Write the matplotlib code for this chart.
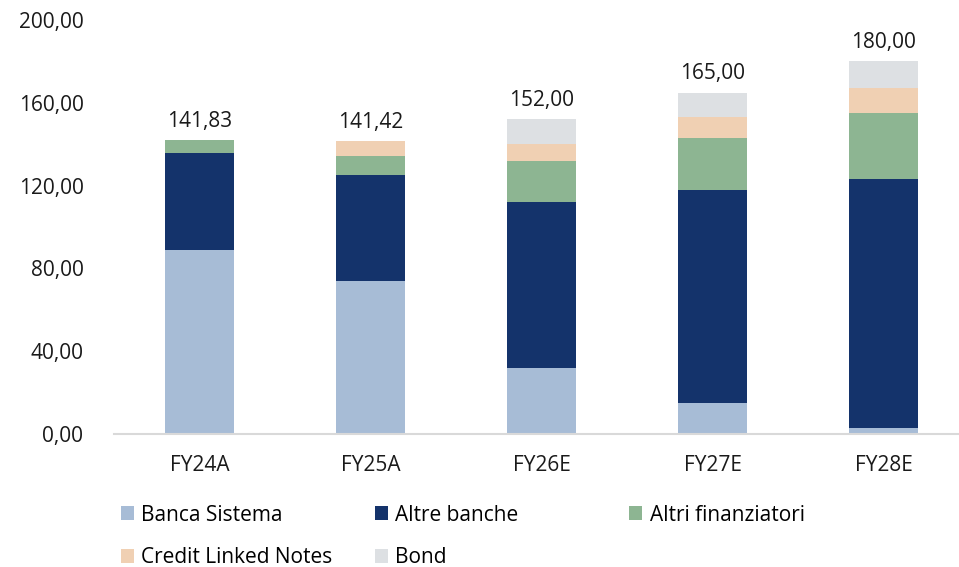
import matplotlib.pyplot as plt
from matplotlib.patches import Patch
from matplotlib.ticker import FuncFormatter
import numpy as np

plt.rcParams['font.family'] = ['Open Sans', 'DejaVu Sans']

# Dati
anni = ['FY24A', 'FY25A', 'FY26E', 'FY27E', 'FY28E']
banca_sistema = [88.7, 73.9, 32.0, 15.0, 3.0]
altre_banche = [47.2, 51.2, 80.0, 103.0, 120.0]
altri_finanziatori = [5.93, 9.2, 20.0, 25.0, 32.0]
credit_linked_notes = [0.0, 7.12, 8.0, 10.0, 12.0]
bond = [0.0, 0.0, 12.0, 12.0, 13.0]
totali = [141.83, 141.42, 152.00, 165.00, 180.00]

serie = [
    ('Banca Sistema', banca_sistema, '#A7BCD6'),
    ('Altre banche', altre_banche, '#14336B'),
    ('Altri finanziatori', altri_finanziatori, '#8DB592'),
    ('Credit Linked Notes', credit_linked_notes, '#F0D0B3'),
    ('Bond', bond, '#DDE0E3'),
]


def virgola(v, pos=None):
    return f'{v:.2f}'.replace('.', ',')


fs = 15
fig = plt.figure(figsize=(9.59, 5.67), dpi=100)
# l'asse va oltre il bordo destro come nell'originale
ax = fig.add_axes([0.1189, 0.2346, 0.8916, 0.73])

x = np.arange(len(anni))
base = np.zeros(len(anni))
for nome, valori, colore in serie:
    ax.bar(x, valori, width=0.40, bottom=base, color=colore, label=nome)
    base += np.array(valori)

# etichette dei totali sopra le barre
for xi, t in zip(x, totali):
    ax.annotate(virgola(t), (xi, t), xytext=(0, 6), textcoords='offset points',
                ha='center', va='bottom', fontsize=fs, color='#1a1a1a')

ax.set_xlim(-0.5, 4.5)
ax.set_ylim(0, 200)
ax.set_yticks([0, 40, 80, 120, 160, 200])
ax.yaxis.set_major_formatter(FuncFormatter(virgola))
ax.set_xticks(x)
ax.set_xticklabels(anni)
ax.tick_params(axis='y', length=0, pad=22, labelsize=fs, colors='#1a1a1a')
ax.tick_params(axis='x', length=0, pad=15, labelsize=fs, colors='#1a1a1a')

for lato in ['top', 'right', 'left']:
    ax.spines[lato].set_visible(False)
ax.spines['bottom'].set_color('#D9D9D9')
ax.spines['bottom'].set_linewidth(1.5)

# legenda: una voce per volta, su griglia 3 colonne x 2 righe
col_x = [0.1262, 0.391, 0.656]
riga_y = [0.0915, 0.0165]
for i, (nome, _, colore) in enumerate(serie):
    leg = fig.legend([Patch(facecolor=colore, edgecolor='none')], [nome],
                     loc='center left',
                     bbox_to_anchor=(col_x[i % 3], riga_y[i // 3]),
                     frameon=False, fontsize=fs, handlelength=0.63,
                     handleheight=0.63, handletextpad=0.35,
                     borderaxespad=0, borderpad=0)

fig.savefig('out.png', dpi=100)
